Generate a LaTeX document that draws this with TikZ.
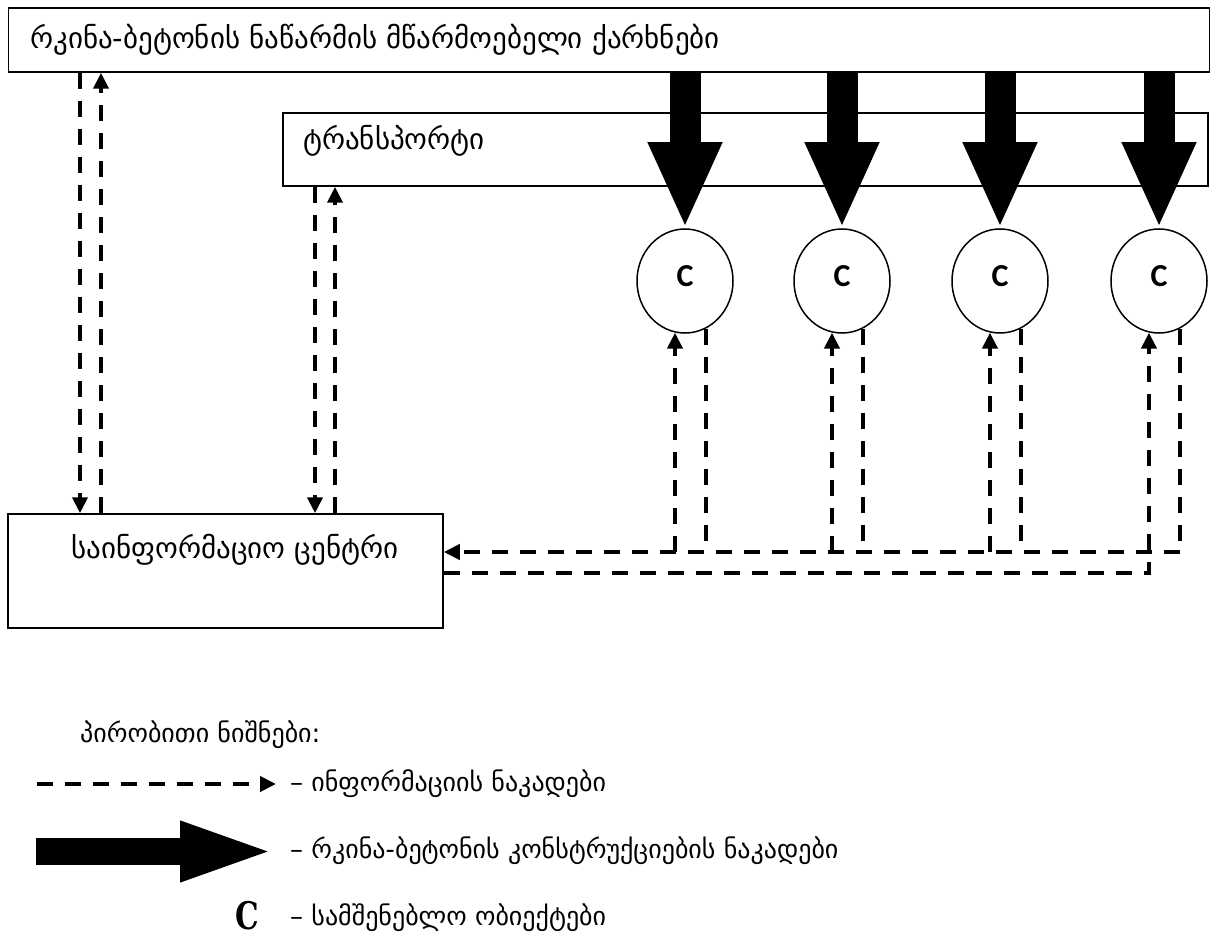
\documentclass[tikz,border=0pt]{standalone}
\usepackage{fontspec}
\setmainfont{DejaVu Sans}
\newfontfamily\cfont{Carlito}
\newfontfamily\lserif{DejaVu Serif}
\usetikzlibrary{arrows.meta,shapes.geometric}

\tikzset{
  frame/.style={draw, line width=1.5pt, inner sep=0pt},
  geo/.style={font=\fontsize{29}{33}\selectfont, inner sep=0pt},
  leg/.style={font=\fontsize{26}{30}\selectfont, inner sep=0pt, anchor=west},
  site/.style={ellipse, draw, line width=1.5pt, minimum width=96pt, minimum height=104pt, inner sep=0pt},
  sitelabel/.style={font=\cfont\bfseries\fontsize{32}{36}\selectfont, inner sep=0pt},
  info/.style={line width=4pt, dash pattern=on 16pt off 12pt},
  infoarrow/.style={info, -{Triangle[length=16pt,width=15pt]}},
  flow/.style={line width=31pt, -{Triangle[length=86pt,width=68pt]}},
  legflow/.style={line width=27pt, -{Triangle[length=98pt,width=53pt]}},
}

\begin{document}
\begin{tikzpicture}[x=1pt,y=-1pt]
\useasboundingbox (0,0) rectangle (1219,944);

% boxes
\node[frame, minimum width=1201pt, minimum height=64pt] (factory) at (609,40) {};
\node[geo, anchor=west] (factoryt) at (30,40) {რკინა-ბეტონის ნაწარმის მწარმოებელი ქარხნები};
\node[frame, minimum width=925pt, minimum height=73pt] (transport) at (745.5,149.5) {};
\node[geo, anchor=west] (transportt) at (303,141) {ტრანსპორტი};
\node[frame, minimum width=435pt, minimum height=114pt] (infoc) at (225.5,571) {};
\node[geo] (infot) at (235,550) {საინფორმაციო ცენტრი};

% construction sites
\foreach \n/\x in {1/685,2/842,3/1000,4/1159}{
  \node[site] (c\n) at (\x,281) {};
  \node[sitelabel] (cl\n) at (\x,276) {C};
}

% flows of precast elements
\foreach \n in {1,...,4}
  \draw[flow] (factory.south -| c\n) -- (c\n.north);

% information flows
\coordinate (xa) at (80,0);
\coordinate (xb) at (101,0);
\coordinate (xc) at (315,0);
\coordinate (xd) at (335,0);
\coordinate (hu) at (0,552);
\coordinate (hl) at (0,573);
\draw[infoarrow] (factory.south -| xa) -- (infoc.north -| xa);
\draw[infoarrow] (infoc.north -| xb) -- (factory.south -| xb);
\draw[infoarrow] (transport.south -| xc) -- (infoc.north -| xc);
\draw[infoarrow] (infoc.north -| xd) -- (transport.south -| xd);

\foreach \n in {1,...,4}
  \draw[info] (c\n.-66) -- (c\n.-66 |- hu);
\foreach \n in {1,...,3}
  \draw[infoarrow] (c\n.-101 |- hu) -- (c\n.-101);
\draw[infoarrow] (c4.-66 |- hu) -- (infoc.east |- hu);
\draw[infoarrow] (infoc.east |- hl) -- (c4.-101 |- hl) -- (c4.-101);

% legend
\node[leg] (legtitle) at (80,735) {პირობითი ნიშნები:};
\coordinate (la) at (37,784);
\coordinate (lb) at (276,784);
\draw[infoarrow] (la) -- (lb);
\node[leg] (leg1) at (290,784) {– ინფორმაციის ნაკადები};
\coordinate (lc) at (36,851.5);
\coordinate (ld) at (278,851.5);
\draw[legflow] (lc) -- (ld);
\node[leg] (leg2) at (290,851) {– რკინა-ბეტონის კონსტრუქციების ნაკადები};
\node[font=\lserif\bfseries\fontsize{38}{40}\selectfont, inner sep=0pt] (legc) at (247,916) {\scalebox{0.78}[1]{C}};
\node[leg] (leg3) at (290,918) {– სამშენებლო ობიექტები};
\end{tikzpicture}
\end{document}
